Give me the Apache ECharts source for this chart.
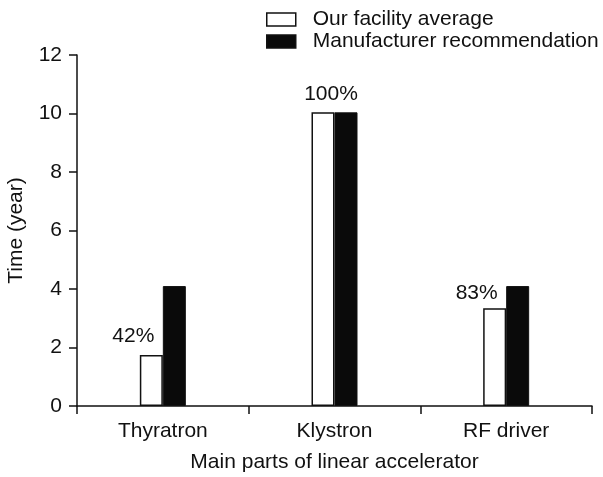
<!DOCTYPE html>
<html>
<head>
<meta charset="utf-8">
<script src="https://cdn.jsdelivr.net/npm/echarts@6/dist/echarts.min.js"></script>
<style>
  html, body { margin: 0; padding: 0; background: #fff; }
  #main { width: 603px; height: 477px; }
</style>
</head>
<body>
<div id="main"></div>
<script>
// data
var categories = ['Thyratron', 'Klystron', 'RF driver'];
var facilityAvg = [1.74, 10.04, 3.34];
var manufacturerRec = [4.1, 10.04, 4.1];
var ratioLabels = ['42%', '100%', '83%'];
var yTicks = [0, 2, 4, 6, 8, 10, 12];

var font = 'Liberation Sans, Arial, sans-serif';
var ink = '#111';

// where each percentage sits relative to the white bar top
var labelShift = [[-18, -3], [8, -3], [-18, 0]];

var myChart = echarts.init(document.getElementById('main'));

var option = {
    animation: false,
    backgroundColor: '#fff',
    legend: {
        orient: 'vertical',
        left: 266,
        top: 9,
        padding: 0,
        icon: 'rect',
        itemWidth: 29,
        itemHeight: 13,
        itemGap: 1,
        itemStyle: { borderColor: ink, borderWidth: 1.5 },
        textStyle: { fontFamily: font, fontSize: 21, color: ink, padding: [0, 0, 0, 12] },
        data: ['Our facility average', 'Manufacturer recommendation']
    },
    grid: {
        left: 77,
        right: 11,
        top: 55,
        bottom: 71,
        outerBoundsMode: 'none'
    },
    xAxis: {
        type: 'category',
        data: categories,
        name: 'Main parts of linear accelerator',
        nameLocation: 'middle',
        nameGap: 46,
        nameTextStyle: { fontFamily: font, fontSize: 21, color: ink },
        axisLine: { lineStyle: { color: ink, width: 1.5 } },
        axisTick: { show: true, length: 8, lineStyle: { color: ink, width: 1.5 } },
        axisLabel: { fontFamily: font, fontSize: 21, color: ink, margin: 15 }
    },
    yAxis: {
        type: 'value',
        min: yTicks[0],
        max: yTicks[yTicks.length - 1],
        interval: yTicks[1] - yTicks[0],
        name: 'Time (year)',
        nameLocation: 'middle',
        nameGap: 50,
        nameTextStyle: { fontFamily: font, fontSize: 21, color: ink },
        splitLine: { show: false },
        axisLine: { show: true, lineStyle: { color: ink, width: 1.5 } },
        axisTick: { show: true, length: 8, lineStyle: { color: ink, width: 1.5 } },
        axisLabel: { fontFamily: font, fontSize: 21, color: ink, margin: 15 }
    },
    series: [
        {
            name: 'Our facility average',
            type: 'bar',
            barWidth: 23,
            barGap: '0%',
            itemStyle: { color: '#fff', borderColor: ink, borderWidth: 1.5 },
            label: {
                show: true,
                position: 'top',
                fontFamily: font,
                fontSize: 21,
                color: ink,
                formatter: function (p) { return ratioLabels[p.dataIndex]; }
            },
            data: facilityAvg.map(function (v, i) {
                return { value: v, label: { offset: labelShift[i] } };
            })
        },
        {
            name: 'Manufacturer recommendation',
            type: 'bar',
            barWidth: 23,
            itemStyle: { color: '#0a0a0a', borderColor: ink, borderWidth: 1 },
            data: manufacturerRec
        }
    ]
};
myChart.setOption(option);
</script>
</body>
</html>
